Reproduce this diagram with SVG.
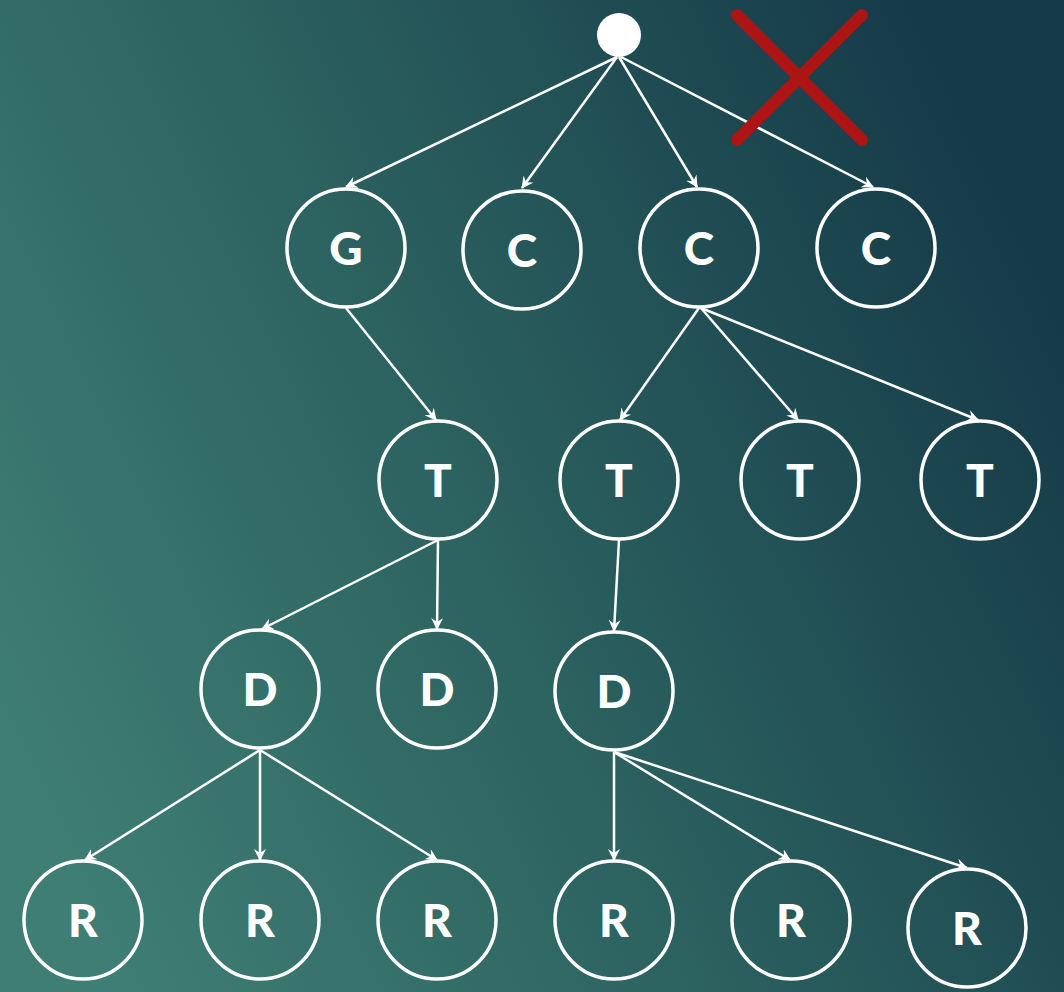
<svg xmlns="http://www.w3.org/2000/svg" width="1064" height="992" viewBox="0 0 1064 992">
<defs>
<linearGradient id="bg" x1="0" y1="0.75" x2="1" y2="0.3">
<stop offset="0" stop-color="#3f7e74"/>
<stop offset="0.45" stop-color="#2c6260"/>
<stop offset="1" stop-color="#153a48"/>
</linearGradient>
<marker id="arr" viewBox="0 0 12 12" refX="11" refY="6" markerWidth="12" markerHeight="12" markerUnits="userSpaceOnUse" orient="auto">
<path d="M0,0 L12,6 L0,12 L4,6 Z" fill="#ffffff"/>
</marker>
<style>
.n circle{fill:none;stroke:#ffffff;stroke-width:3.5}
.n text{fill:#ffffff;font-family:"Lato","Liberation Sans",sans-serif;font-weight:900;font-size:46px;text-anchor:middle}
#edges line{stroke:#ffffff;stroke-width:2.5;marker-end:url(#arr)}
</style>
</defs>
<rect width="1064" height="992" fill="url(#bg)"/>
<g id="edges">
<line x1="617" y1="57" x2="346" y2="187"/>
<line x1="617" y1="57" x2="522" y2="188"/>
<line x1="619" y1="57" x2="697" y2="187"/>
<line x1="621" y1="57" x2="873" y2="187"/>
<line x1="346" y1="308" x2="436" y2="420"/>
<line x1="699" y1="308" x2="620" y2="420"/>
<line x1="701" y1="308" x2="798" y2="420"/>
<line x1="701" y1="308" x2="978" y2="420"/>
<line x1="438" y1="540" x2="262" y2="629"/>
<line x1="438" y1="540" x2="437" y2="629"/>
<line x1="619" y1="540" x2="614" y2="631"/>
<line x1="260" y1="750" x2="85" y2="860"/>
<line x1="260" y1="750" x2="260" y2="860"/>
<line x1="260" y1="750" x2="437" y2="860"/>
<line x1="614" y1="752" x2="614" y2="860"/>
<line x1="614" y1="752" x2="790" y2="860"/>
<line x1="614" y1="752" x2="967" y2="868"/>
</g>
<g id="root"><circle cx="619" cy="35" r="22" fill="#ffffff"/></g>
<g id="cross" stroke="#ad1515" stroke-width="12" stroke-linecap="round">
<line x1="737" y1="15" x2="862" y2="140"/>
<line x1="862" y1="15" x2="737" y2="140"/>
</g>
<g id="nG" class="n"><circle cx="346" cy="248" r="59"/><text x="346" y="265">G</text></g>
<g id="nC1" class="n"><circle cx="522" cy="250" r="59"/><text x="522" y="267">C</text></g>
<g id="nC2" class="n"><circle cx="699" cy="248" r="59"/><text x="699" y="265">C</text></g>
<g id="nC3" class="n"><circle cx="876" cy="248" r="59"/><text x="876" y="265">C</text></g>
<g id="nT1" class="n"><circle cx="438" cy="480" r="59"/><text x="438" y="497">T</text></g>
<g id="nT2" class="n"><circle cx="619" cy="480" r="59"/><text x="619" y="497">T</text></g>
<g id="nT3" class="n"><circle cx="800" cy="480" r="59"/><text x="800" y="497">T</text></g>
<g id="nT4" class="n"><circle cx="980" cy="480" r="59"/><text x="980" y="497">T</text></g>
<g id="nD1" class="n"><circle cx="260" cy="689" r="59"/><text x="260" y="706">D</text></g>
<g id="nD2" class="n"><circle cx="437" cy="689" r="59"/><text x="437" y="706">D</text></g>
<g id="nD3" class="n"><circle cx="614" cy="691" r="59"/><text x="614" y="708">D</text></g>
<g id="nR1" class="n"><circle cx="83" cy="920" r="59"/><text x="83" y="937">R</text></g>
<g id="nR2" class="n"><circle cx="260" cy="920" r="59"/><text x="260" y="937">R</text></g>
<g id="nR3" class="n"><circle cx="437" cy="920" r="59"/><text x="437" y="937">R</text></g>
<g id="nR4" class="n"><circle cx="614" cy="920" r="59"/><text x="614" y="937">R</text></g>
<g id="nR5" class="n"><circle cx="791" cy="920" r="59"/><text x="791" y="937">R</text></g>
<g id="nR6" class="n"><circle cx="967" cy="928" r="59"/><text x="967" y="945">R</text></g>
</svg>
